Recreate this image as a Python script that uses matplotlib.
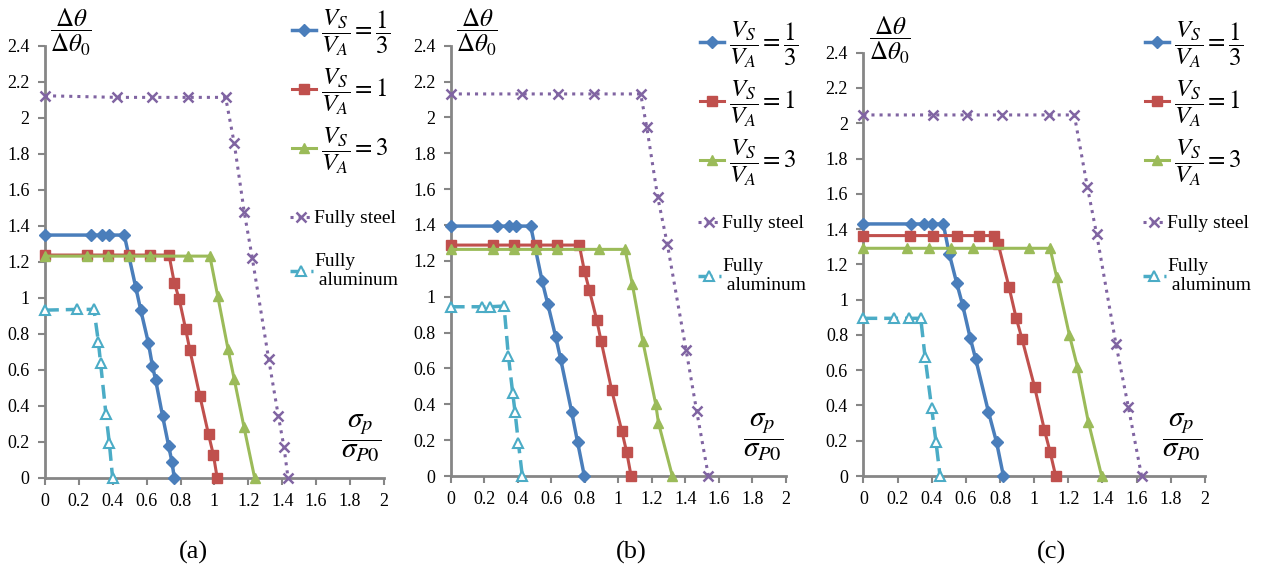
import numpy as np
from matplotlib import pyplot as plt
from matplotlib.ticker import MultipleLocator, FuncFormatter

plt.rcParams['font.family'] = ['Liberation Serif', 'DejaVu Serif']
plt.rcParams['mathtext.fontset'] = 'stix'

# ---- panel (a) ----
a_b_x = [0, 0.269, 0.334, 0.380, 0.468, 0.535, 0.565, 0.610, 0.634, 0.653, 0.694, 0.730, 0.749, 0.763]
a_b_y = [1.348, 1.348, 1.348, 1.348, 1.348, 1.061, 0.932, 0.750, 0.622, 0.543, 0.343, 0.176, 0.089, 0]
a_r_x = [0, 0.250, 0.370, 0.498, 0.621, 0.732, 0.763, 0.792, 0.830, 0.855, 0.914, 0.965, 0.994, 1.016]
a_r_y = [1.237, 1.237, 1.237, 1.237, 1.237, 1.237, 1.083, 0.993, 0.826, 0.709, 0.454, 0.241, 0.126, 0]
a_g_x = [0, 0.250, 0.370, 0.498, 0.621, 0.846, 0.973, 1.019, 1.080, 1.117, 1.174, 1.237]
a_g_y = [1.231, 1.231, 1.231, 1.231, 1.231, 1.231, 1.231, 1.011, 0.715, 0.546, 0.283, 0]
a_s_x = [0, 0.423, 0.634, 0.846, 1.066, 1.117, 1.176, 1.223, 1.320, 1.377, 1.410, 1.434]
a_s_y = [2.122, 2.113, 2.113, 2.113, 2.113, 1.857, 1.474, 1.222, 0.659, 0.343, 0.172, 0]
a_al_x = [0, 0.191, 0.289, 0.315, 0.328, 0.360, 0.380, 0.399]
a_al_y = [0.931, 0.935, 0.935, 0.756, 0.639, 0.352, 0.191, 0]

# ---- panel (b) ----
b_b_x = [0, 0.278, 0.350, 0.390, 0.477, 0.545, 0.579, 0.626, 0.656, 0.722, 0.757, 0.797]
b_b_y = [1.394, 1.394, 1.394, 1.394, 1.394, 1.088, 0.959, 0.777, 0.651, 0.355, 0.188, 0]
b_r_x = [0, 0.254, 0.380, 0.507, 0.632, 0.767, 0.797, 0.827, 0.871, 0.897, 0.960, 1.020, 1.050, 1.076]
b_r_y = [1.288, 1.288, 1.288, 1.288, 1.288, 1.288, 1.145, 1.037, 0.870, 0.753, 0.480, 0.253, 0.132, 0]
b_g_x = [0, 0.254, 0.380, 0.507, 0.632, 0.885, 1.040, 1.083, 1.145, 1.223, 1.239, 1.322]
b_g_y = [1.264, 1.264, 1.264, 1.264, 1.264, 1.264, 1.264, 1.071, 0.755, 0.400, 0.297, 0]
b_s_x = [0, 0.427, 0.638, 0.855, 1.133, 1.169, 1.235, 1.292, 1.404, 1.467, 1.537]
b_s_y = [2.131, 2.131, 2.131, 2.131, 2.131, 1.948, 1.554, 1.294, 0.703, 0.363, 0]
b_al_x = [0, 0.185, 0.235, 0.318, 0.344, 0.370, 0.384, 0.404, 0.427]
b_al_y = [0.944, 0.944, 0.944, 0.948, 0.669, 0.461, 0.355, 0.182, 0]

# ---- panel (c) ----
c_b_x = [0, 0.279, 0.357, 0.400, 0.468, 0.503, 0.546, 0.581, 0.626, 0.658, 0.732, 0.780, 0.820]
c_b_y = [1.429, 1.429, 1.429, 1.429, 1.429, 1.259, 1.096, 0.970, 0.781, 0.662, 0.365, 0.191, 0]
c_r_x = [0, 0.273, 0.410, 0.546, 0.679, 0.767, 0.790, 0.853, 0.894, 0.929, 1.003, 1.060, 1.093, 1.126]
c_r_y = [1.363, 1.363, 1.363, 1.363, 1.363, 1.363, 1.314, 1.070, 0.898, 0.777, 0.503, 0.261, 0.138, 0]
c_g_x = [0, 0.254, 0.384, 0.513, 0.644, 0.970, 1.093, 1.132, 1.206, 1.253, 1.317, 1.395]
c_g_y = [1.291, 1.291, 1.291, 1.291, 1.291, 1.291, 1.291, 1.127, 0.800, 0.620, 0.308, 0]
c_s_x = [0, 0.410, 0.609, 0.814, 1.087, 1.235, 1.311, 1.366, 1.479, 1.551, 1.629]
c_s_y = [2.047, 2.047, 2.047, 2.047, 2.047, 2.047, 1.641, 1.370, 0.747, 0.393, 0]
c_al_x = [0, 0.180, 0.267, 0.336, 0.361, 0.400, 0.425, 0.449]
c_al_y = [0.894, 0.894, 0.894, 0.894, 0.677, 0.384, 0.195, 0]

panel_tags = ['(a)', '(b)', '(c)']
labels = [r'$\dfrac{V_S}{V_A}=\dfrac{1}{3}$', r'$\dfrac{V_S}{V_A}=1$', r'$\dfrac{V_S}{V_A}=3$',
          'Fully steel', 'Fully\n aluminum']

panels = [
    [(a_b_x, a_b_y), (a_r_x, a_r_y), (a_g_x, a_g_y), (a_s_x, a_s_y), (a_al_x, a_al_y)],
    [(b_b_x, b_b_y), (b_r_x, b_r_y), (b_g_x, b_g_y), (b_s_x, b_s_y), (b_al_x, b_al_y)],
    [(c_b_x, c_b_y), (c_r_x, c_r_y), (c_g_x, c_g_y), (c_s_x, c_s_y), (c_al_x, c_al_y)],
]

styles = [
    dict(color='#4A7EBB', lw=2.5, ls='-', marker='D', ms=6),
    dict(color='#C0504D', lw=2.2, ls='-', marker='s', ms=7.5),
    dict(color='#9BBB59', lw=2.2, ls='-', marker='^', ms=7.5),
    dict(color='#8064A2', lw=2.2, ls=':', marker='x', ms=7, mew=1.8),
    dict(color='#4BACC6', lw=2.5, ls=(0, (4, 2)), marker='^', ms=7.5, mfc='white', mew=1.5),
]

rects = [
    [0.0354, 0.1848, 0.2669, 0.7372],
    [0.3549, 0.1877, 0.2640, 0.7343],
    [0.6798, 0.1877, 0.2690, 0.7224],
]
tag_x = [193, 631, 1052]
# legend anchors, page pixels: left edge, centre of the 3 fraction entries, top of the 2 text entries
leg_x = [282, 690, 1135]
leg1_y = [92, 104, 104]
leg2_y = [202, 207, 207]

W, H = 1270, 586
gray = '#868686'
fig = plt.figure(figsize=(12.7, 5.86), dpi=100)

for i in range(3):
    ax = fig.add_axes(rects[i])
    lines = []
    for (x, y), st in zip(panels[i], styles):
        ln, = ax.plot(x, y, clip_on=False, zorder=3, **st)
        lines.append(ln)
    ax.set_xlim(0, 2)
    ax.set_ylim(0, 2.4)
    ax.xaxis.set_major_locator(MultipleLocator(0.2))
    ax.yaxis.set_major_locator(MultipleLocator(0.2))
    ax.xaxis.set_major_formatter(FuncFormatter(lambda v, p: '%g' % round(v, 1)))
    ax.yaxis.set_major_formatter(FuncFormatter(lambda v, p: '%g' % round(v, 1)))
    for s in ['top', 'right']:
        ax.spines[s].set_visible(False)
    for s in ['left', 'bottom']:
        ax.spines[s].set_color(gray)
        ax.spines[s].set_linewidth(2)
    ax.tick_params(direction='out', length=5, width=1.5, color=gray, labelsize=13)
    ax.tick_params(axis='x', pad=6)
    ax.tick_params(axis='y', pad=6)

    ax.text(0.078, 1.03, r'$\dfrac{\Delta\theta}{\Delta\theta_0}$', transform=ax.transAxes,
            fontsize=18, ha='center', va='center')
    ax.text(0.932, 0.09, r'$\dfrac{\sigma_p}{\sigma_{P0}}$', transform=ax.transAxes,
            fontsize=21, ha='center', va='center')

    leg1 = ax.legend(lines[:3], labels[:3], loc='center left',
                     bbox_to_anchor=(leg_x[i] / W, 1 - leg1_y[i] / H),
                     bbox_transform=fig.transFigure, frameon=False,
                     fontsize=18, handlelength=0.95, handletextpad=0.2, labelspacing=0.35,
                     numpoints=1, borderaxespad=0)
    ax.add_artist(leg1)
    ax.legend(lines[3:], labels[3:], loc='upper left',
              bbox_to_anchor=(leg_x[i] / W, 1 - leg2_y[i] / H),
              bbox_transform=fig.transFigure, frameon=False,
              fontsize=14, handlelength=1.2, handletextpad=0.05, labelspacing=1.3,
              numpoints=1, borderaxespad=0)

    fig.text(tag_x[i] / W, 1 - 552 / H, panel_tags[i], fontsize=19,
             ha='center', va='center')

plt.savefig('out.png', dpi=100)
